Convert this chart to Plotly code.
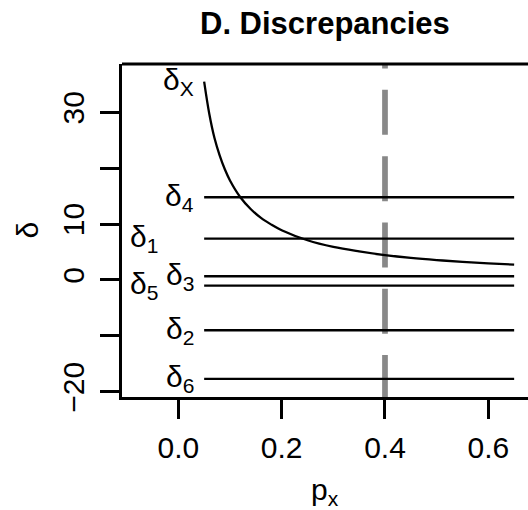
import plotly.graph_objects as go

# ---- data ----
line_names = ["δ<sub>4</sub>", "δ<sub>1</sub>", "δ<sub>3</sub>", "δ<sub>5</sub>", "δ<sub>2</sub>", "δ<sub>6</sub>"]
line_values = [14.8, 7.4, 0.66, -1.0, -9.0, -17.7]
line_x_start = 0.05
line_x_end = 0.65

curve_name = "δ<sub>X</sub>"
curve_px = [0.05, 0.06, 0.07, 0.08, 0.09, 0.10, 0.12, 0.14, 0.16, 0.18, 0.20,
            0.25, 0.30, 0.35, 0.40, 0.45, 0.50, 0.55, 0.60, 0.65]
curve_delta = [35.5, 29.7, 25.4, 22.3, 19.8, 17.8, 14.8, 12.7, 11.1, 9.9, 8.9,
               7.1, 5.9, 5.1, 4.45, 3.95, 3.56, 3.24, 2.97, 2.74]

vline_x = 0.4

x_ticks = [0.0, 0.2, 0.4, 0.6]
x_ticklabels = ["0.0", "0.2", "0.4", "0.6"]
y_ticks = [-20, -10, 0, 10, 20, 30]
y_ticklabels = ["−20", "", "0", "10", "", "30"]

title_text = "<b>D. Discrepancies</b>"
x_title = "p<sub>x</sub>"
y_title = "δ"

# ---- layout constants ----
W, H = 528, 510
ML, MR, MT, MB = 122, 0, 64, 113
XR = [-0.109, 0.6768]
YR = [-20.94, 38.64]
FONT = "Liberation Sans, Arial, Helvetica, sans-serif"
FS = 30

fig = go.Figure()

# vertical dashed reference line
fig.add_trace(go.Scatter(x=[vline_x, vline_x], y=[YR[0] - 0.55, YR[1] + 1], mode="lines",
                         line=dict(color="#888888", width=5.7, dash="45px,21.3px"),
                         hoverinfo="skip", showlegend=False))

for v in line_values:
    fig.add_trace(go.Scatter(x=[line_x_start, line_x_end], y=[v, v], mode="lines",
                             line=dict(color="black", width=2.3), showlegend=False))

fig.add_trace(go.Scatter(x=curve_px, y=curve_delta, mode="lines",
                         line=dict(color="black", width=2.3, shape="spline", smoothing=1.0),
                         showlegend=False))

annotations = []
near_x = 0.034
far_x = -0.035
far_labels = {"δ<sub>1</sub>", "δ<sub>5</sub>"}
for name, v in zip(line_names, line_values):
    annotations.append(dict(x=far_x if name in far_labels else near_x, y=v, xref="x", yref="y",
                            text=name, showarrow=False, xanchor="right", yanchor="middle",
                            font=dict(size=FS, color="black", family=FONT)))
annotations.append(dict(x=near_x, y=curve_delta[0], xref="x", yref="y", text=curve_name,
                        showarrow=False, xanchor="right", yanchor="middle",
                        font=dict(size=FS, color="black", family=FONT)))

pw = W - ML - MR
ph = H - MT - MB
# axis titles
annotations.append(dict(x=(27 - ML) / pw, y=0.5, xref="paper", yref="paper", text=y_title,
                        textangle=-90, showarrow=False, xanchor="center", yanchor="middle",
                        font=dict(size=FS, color="black", family=FONT)))
annotations.append(dict(x=(325 - ML) / pw, y=-(492 - (H - MB)) / ph, xref="paper", yref="paper",
                        text=x_title, showarrow=False, xanchor="center", yanchor="middle",
                        font=dict(size=FS, color="black", family=FONT)))
# title
annotations.append(dict(x=(325 - ML) / pw, y=1 + (MT - 23) / ph, xref="paper", yref="paper",
                        text=title_text, showarrow=False, xanchor="center", yanchor="middle",
                        font=dict(size=31, color="black", family=FONT)))

fig.update_layout(
    width=W, height=H,
    margin=dict(l=ML, r=MR, t=MT, b=MB, pad=0),
    paper_bgcolor="white", plot_bgcolor="white",
    showlegend=False,
    annotations=annotations,
    shapes=[dict(type="line", xref="paper", yref="paper", x0=0, x1=1, y0=1, y1=1,
                 line=dict(color="black", width=3))],
    xaxis=dict(range=XR, tickvals=x_ticks, ticktext=x_ticklabels, ticks="outside",
               ticklen=19, tickwidth=3, tickcolor="black", showline=True, linewidth=3,
               linecolor="black", showgrid=False, zeroline=False,
               tickfont=dict(size=FS, color="black", family=FONT), ticklabelstandoff=3),
    yaxis=dict(range=YR, tickvals=y_ticks, ticktext=y_ticklabels, ticks="outside",
               ticklen=19, tickwidth=3, tickcolor="black", showline=True, linewidth=3,
               linecolor="black", showgrid=False, zeroline=False, tickangle=-90,
               tickfont=dict(size=FS, color="black", family=FONT), ticklabelstandoff=4),
)

fig.write_html("out.html")
